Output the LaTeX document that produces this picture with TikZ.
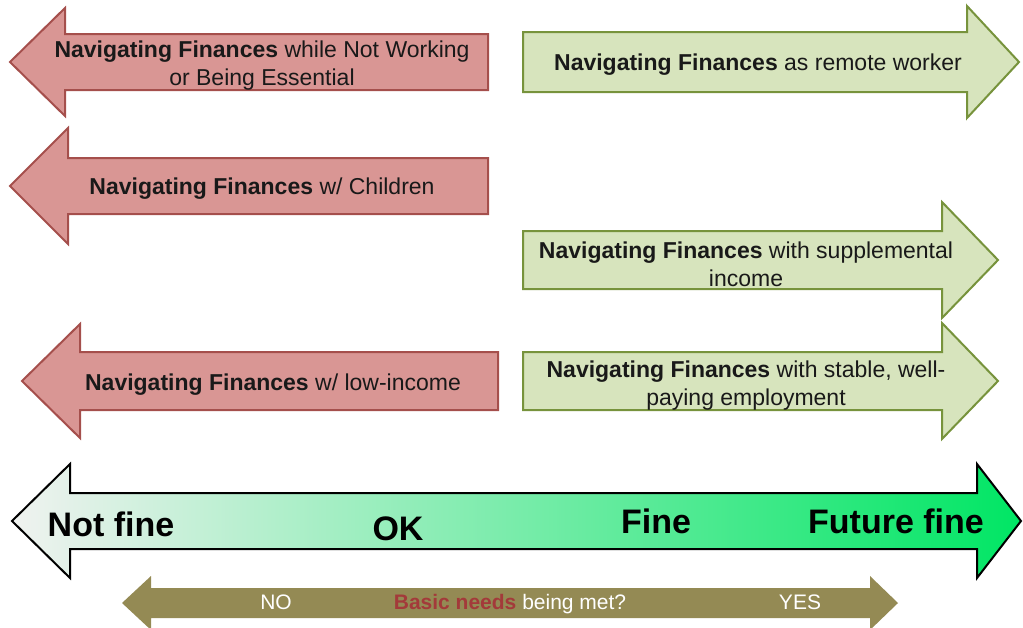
\documentclass[tikz,border=0pt]{standalone}
\usepackage{fontspec}
\setmainfont{Liberation Sans}
\usetikzlibrary{positioning}
\usepackage{xcolor}
\definecolor{notfinered}{HTML}{D99694}
\definecolor{notfineborder}{HTML}{A54F4C}
\definecolor{finegreen}{HTML}{D7E4BD}
\definecolor{fineborder}{HTML}{77933C}
\definecolor{scalelight}{HTML}{F0F2F0}
\definecolor{scalegreen}{HTML}{00E664}
\definecolor{needsolive}{HTML}{948A54}
\definecolor{needsred}{HTML}{A33A3A}
\tikzstyle{redarrow} = [draw=notfineborder, fill=notfinered, line width=1pt]
\tikzstyle{greenarrow} = [draw=fineborder, fill=finegreen, line width=1pt]
\tikzstyle{scalearrow} = [draw=black, line width=1pt, left color=scalelight, right color=scalegreen]
\tikzstyle{arrowtext} = [align=center, inner sep=0pt, text=black!90, font=\fontsize{11.5}{14}\selectfont]
\tikzstyle{scaletext} = [anchor=base, inner sep=0pt, font=\fontsize{17}{20}\selectfont\bfseries]
\tikzstyle{needstext} = [anchor=base, inner sep=0pt, text=white, font=\fontsize{10.5}{12}\selectfont]

\begin{document}
\begin{tikzpicture}[x=0.5pt, y=-0.5pt]
\useasboundingbox (0,0) rectangle (1023,627);

% Not fine side: arrows pointing left
\foreach \tx/\bx/\ex/\m/\s/\h in {10/65/488/62/28/54, 10/68/488/186/28/58, 22/80/498/381/29/57} {
    \draw[redarrow] (\tx,\m) -- (\bx,\m-\h) -- (\bx,\m-\s) -- (\ex,\m-\s) -- (\ex,\m+\s) -- (\bx,\m+\s) -- (\bx,\m+\h) -- cycle;
}

% Fine side: arrows pointing right
\foreach \lx/\bx/\tx/\m/\s/\h in {523/967/1019/62/30/56, 523/942/998/260/29/58, 523/942/998/381/29/58} {
    \draw[greenarrow] (\lx,\m-\s) -- (\bx,\m-\s) -- (\bx,\m-\h) -- (\tx,\m) -- (\bx,\m+\h) -- (\bx,\m+\s) -- (\lx,\m+\s) -- cycle;
}

\node[arrowtext] (notworking) at (262,66) {\textbf{Navigating Finances} while Not Working\\or Being Essential};
\node[arrowtext] (children) at (262,189) {\textbf{Navigating Finances} w/ Children};
\node[arrowtext] (lowincome) at (273,385) {\textbf{Navigating Finances} w/ low-income};
\node[arrowtext] (remote) at (758,65) {\textbf{Navigating Finances} as remote worker};
\node[arrowtext] (supplemental) at (746,264) {\textbf{Navigating Finances} with supplemental\\income};
\node[arrowtext] (stable) at (746,386) {\textbf{Navigating Finances} with stable, well-\\paying employment};

% Scale from not fine to future fine
\draw[scalearrow] (12,521) -- (70,464) -- (70,493) -- (977,493) -- (977,464) -- (1021,521) -- (977,578) -- (977,549) -- (70,549) -- (70,578) -- cycle;
\node[scaletext] (notfine) at (111,536) {Not fine};
\node[scaletext] (ok) at (398,540) {OK};
\node[scaletext] (fine) at (656,533) {Fine};
\node[scaletext] (futurefine) at (896,533) {Future fine};

% Basic needs
\fill[needsolive] (122,603) -- (151,576) -- (151,588) -- (870,588) -- (870,576) -- (898,603) -- (870,630) -- (870,618) -- (151,618) -- (151,630) -- cycle;
\node[needstext] (no) at (276,609) {NO};
\node[needstext] (basicneeds) at (510,609) {\textcolor{needsred}{\textbf{Basic needs}} being met?};
\node[needstext] (yes) at (800,609) {YES};
\end{tikzpicture}
\end{document}
